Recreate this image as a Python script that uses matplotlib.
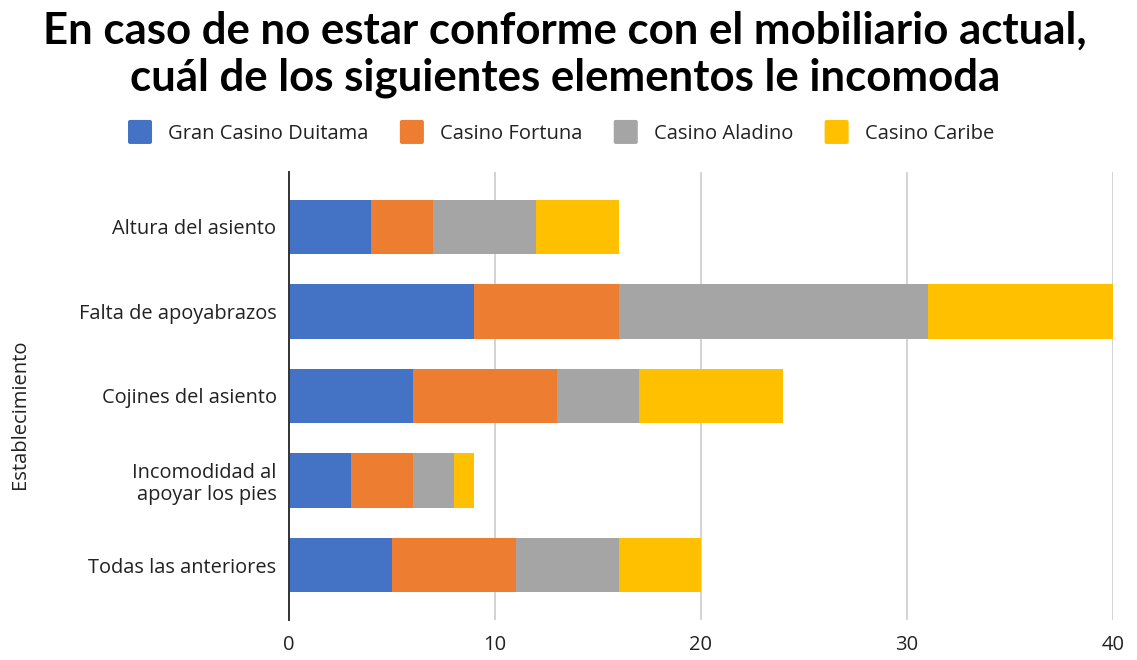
import matplotlib
matplotlib.use("Agg")
import matplotlib.pyplot as plt
from matplotlib.patches import FancyBboxPatch
from matplotlib.legend_handler import HandlerPatch

categories = [
    "Altura del asiento",
    "Falta de apoyabrazos",
    "Cojines del asiento",
    "Incomodidad al\napoyar los pies",
    "Todas las anteriores",
]
series_names = ["Gran Casino Duitama", "Casino Fortuna", "Casino Aladino", "Casino Caribe"]
duitama = [4, 9, 6, 3, 5]
fortuna = [3, 7, 7, 3, 6]
aladino = [5, 15, 4, 2, 5]
caribe = [4, 9, 7, 1, 4]
x_ticks = [0, 10, 20, 30, 40]

colors = ["#4472C4", "#ED7D31", "#A5A5A5", "#FFC000"]
series = [duitama, fortuna, aladino, caribe]

plt.rcParams["font.family"] = ["Open Sans", "DejaVu Sans"]
TXT = "#222222"

W, H = 1137, 660
fig = plt.figure(figsize=(W / 100, H / 100), dpi=100)
ax = fig.add_axes([289 / W, 1 - 620 / H, (1113 - 289) / W, (620 - 172) / H])

ypos = list(range(len(categories)))
left = [0] * len(categories)
for name, vals, col in zip(series_names, series, colors):
    ax.barh(ypos, vals, left=left, height=0.64, color=col, label=name, zorder=3)
    left = [a + b for a, b in zip(left, vals)]

ax.set_xlim(0, 40)
ax.set_ylim(4.65, -0.65)
ax.set_xticks(x_ticks)
ax.set_xticklabels([str(v) for v in x_ticks], fontsize=14.5, color=TXT)
ax.set_yticks(ypos)
ax.set_yticklabels(categories, fontsize=14.4, color=TXT, linespacing=1.15)
ax.tick_params(axis="both", length=0)
ax.tick_params(axis="x", pad=11)
ax.tick_params(axis="y", pad=9)
ax.xaxis.grid(True, color="#D0D0D0", linewidth=1.3, zorder=0)
for s in ["top", "right", "bottom"]:
    ax.spines[s].set_visible(False)
ax.spines["left"].set_color("#333333")
ax.spines["left"].set_linewidth(1.4)
ax.spines["left"].set_zorder(4)

fig.text(20 / W, 1 - 414 / H, "Establecimiento", rotation=90, ha="center", va="center",
         fontsize=14.5, color=TXT)


class RoundHandler(HandlerPatch):
    def create_artists(self, legend, orig_handle, xdescent, ydescent, width, height, fontsize, trans):
        size = 17.3
        p = FancyBboxPatch((xdescent + (width - size) / 2, ydescent + (height - size) / 2), size, size,
                           boxstyle="round,pad=0,rounding_size=1.5",
                           facecolor=orig_handle.get_facecolor(), edgecolor="none", transform=trans)
        return [p]


proxies = [plt.Rectangle((0, 0), 1, 1, facecolor=c) for c in colors]
fig.legend(proxies, series_names, loc="center", bbox_to_anchor=(561 / W, 1 - 134 / H),
           ncol=4, frameon=False, fontsize=14.5, labelcolor=TXT,
           handler_map={plt.Rectangle: RoundHandler()},
           handlelength=1.2, handletextpad=0.8, columnspacing=1.55)

title_lines = ["En caso de no estar conforme con el mobiliario actual,",
               "cuál de los siguientes elementos le incomoda"]
for line, base in zip(title_lines, [44, 90]):
    fig.text(565 / W, 1 - base / H, line, ha="center", va="baseline",
             fontsize=31.5, fontweight="bold", family=["Lato", "DejaVu Sans"], color="black")

fig.savefig("out.png", dpi=100)
